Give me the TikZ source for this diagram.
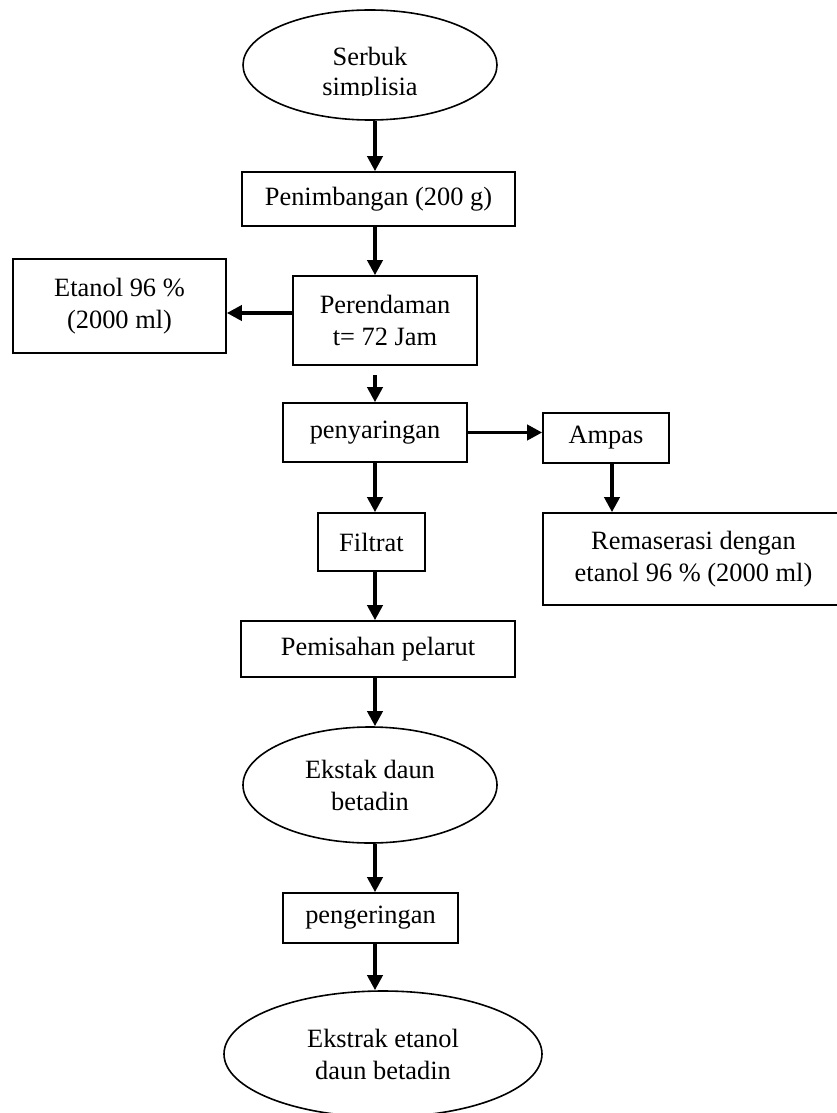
\documentclass[tikz,border=0pt]{standalone}
\usepackage{fontspec}
\setmainfont{Liberation Serif}
\usetikzlibrary{shapes.geometric,arrows.meta}
\newcommand\dfont{\fontsize{26.4}{32}\selectfont}
\newcommand\dfontb{\fontsize{26.4}{30}\selectfont}
\begin{document}
\begin{tikzpicture}[x=1pt,y=-1pt,
  box/.style={draw,line width=1.6pt,inner sep=0pt,align=center,font=\dfont},
  oval/.style={ellipse,draw,line width=1.6pt,inner sep=0pt,align=center,font=\dfont},
  arr/.style={line width=3.6pt,-{Triangle[length=15pt,width=15pt]}}]
\useasboundingbox (0,0) rectangle (836,1113);

% nodes
\node[oval,minimum width=254pt,minimum height=110pt] (s) at (370,65) {};
\begin{scope}
  \clip (240,0) rectangle (500,96);
  \node[font=\dfontb,align=center,inner sep=0pt] (st) at (370,74) {Serbuk\\simplisia};
\end{scope}
\node[box,minimum width=273pt,minimum height=54pt] (pen) at (378.5,199) {Penimbangan (200 g)};
\node[box,minimum width=184pt,minimum height=89pt] (per) at (385,320.5) {Perendaman\\t= 72 Jam};
\node[box,minimum width=213pt,minimum height=94pt] (eta) at (119.5,306) {Etanol 96 \%\\(2000 ml)};
\node[box,minimum width=184pt,minimum height=59pt] (pny) at (375,432.5) {penyaringan};
\node[box,minimum width=126pt,minimum height=50pt] (amp) at (606,438) {Ampas};
\node[box,minimum width=301pt,minimum height=92pt] (rem) at (693.5,559) {Remaserasi dengan\\etanol 96 \% (2000 ml)};
\node[box,minimum width=107pt,minimum height=58pt] (fil) at (371.5,542) {Filtrat};
\node[box,minimum width=274pt,minimum height=56pt] (pem) at (378,649) {Pemisahan pelarut};
\node[oval,minimum width=254pt,minimum height=116pt] (ek) at (370,785) {Ekstak daun\\betadin};
\node[box,minimum width=175pt,minimum height=50pt] (peng) at (370.5,918) {pengeringan};
\node[oval,minimum width=318pt,minimum height=126pt] (fin) at (383,1054) {Ekstrak etanol\\daun betadin};

% connectors
\coordinate (col) at (375,0);
\draw[arr] (col |- s.south) -- (col |- pen.north);
\draw[arr] (col |- pen.south) -- (col |- per.north);
\coordinate (pL) at ([yshift=7.5pt]per.west);
\draw[arr] (pL) -- (pL -| eta.east);
\coordinate (pS) at (375,375);
\draw[arr] (pS) -- (pS |- pny.north);
\draw[arr] (pny.east) -- (pny.east -| amp.west);
\coordinate (aS) at ([xshift=6pt]amp.south);
\draw[arr] (aS) -- (aS |- rem.north);
\draw[arr] (col |- pny.south) -- (col |- fil.north);
\draw[arr] (col |- fil.south) -- (col |- pem.north);
\draw[arr] (col |- pem.south) -- (col |- ek.north);
\draw[arr] (col |- ek.south) -- (col |- peng.north);
\draw[arr] (col |- peng.south) -- (col |- fin.north);
\end{tikzpicture}
\end{document}
